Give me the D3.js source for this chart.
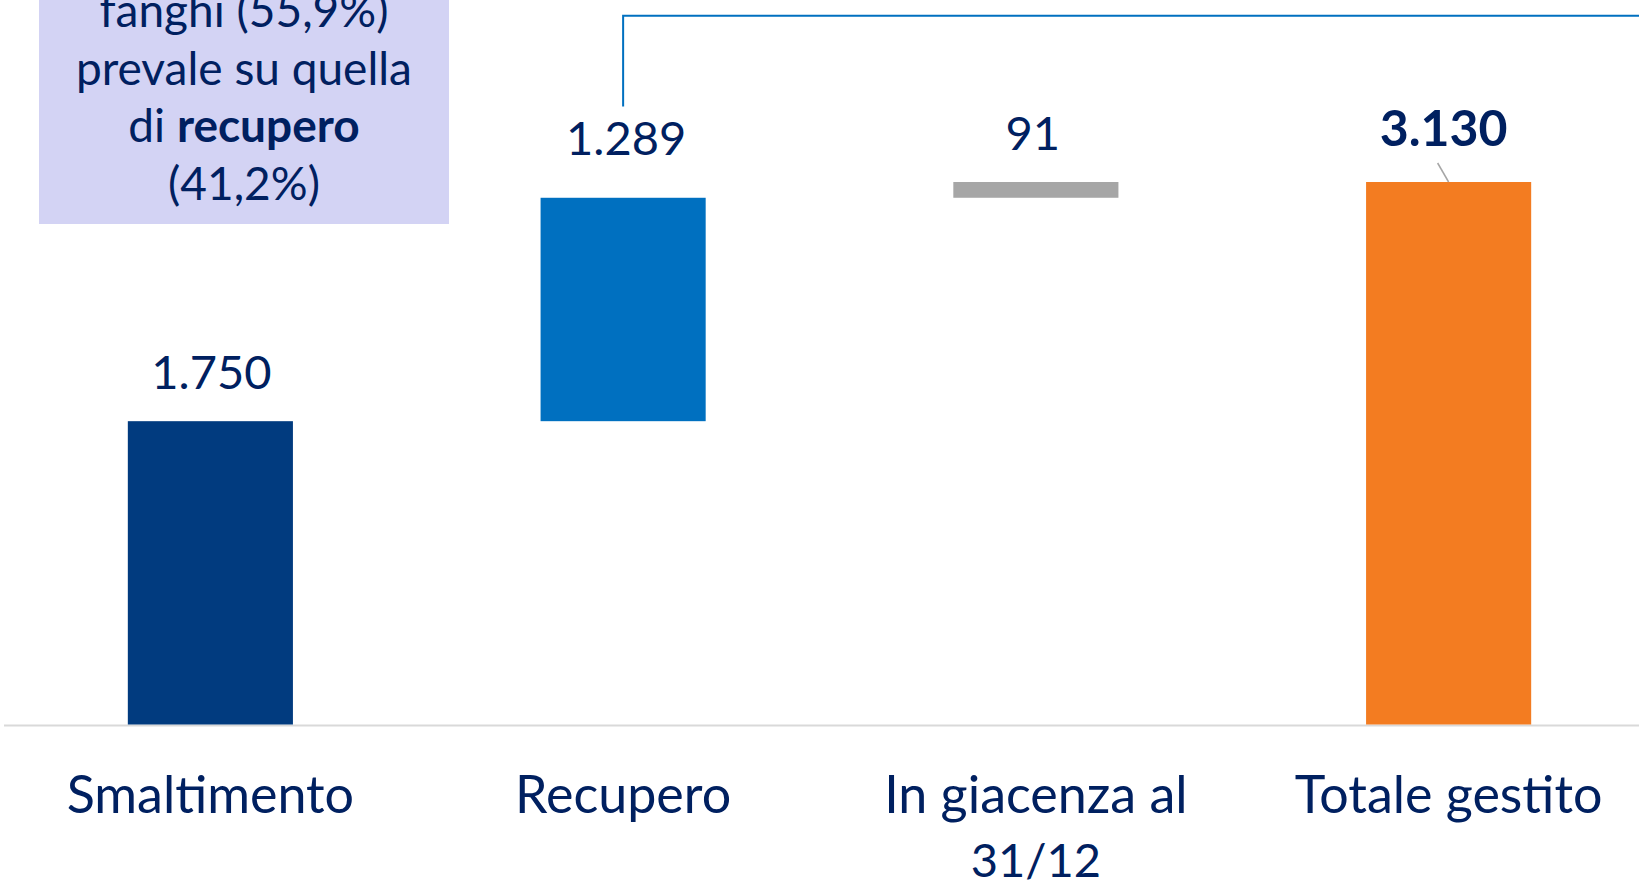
<!DOCTYPE html>
<html>
<head>
<meta charset="utf-8">
<script src="https://cdn.jsdelivr.net/npm/d3@7"></script>
<style>
  html, body { margin: 0; padding: 0; background: #ffffff; overflow: hidden; }
  svg { display: block; }
  text { font-family: Lato, "Noto Sans", sans-serif; fill: #002060; }
</style>
</head>
<body>
<svg id="chart" width="1639" height="888"></svg>
<script>
// ---- data ----
const categories = ["Smaltimento", "Recupero", "In giacenza al 31/12", "Totale gestito"];
const categoryLines = [["Smaltimento"], ["Recupero"], ["In giacenza al", "31/12"], ["Totale gestito"]];
const values = [1750, 1289, 91, 3130];
const valueLabels = ["1.750", "1.289", "91", "3.130"];
const isTotal = [false, false, false, true];
const noteLines = ["fanghi (55,9%)", "prevale su quella", "di |recupero", "(41,2%)"];

// ---- layout ----
const W = 1639, H = 888;
const colors = ["#013B7F", "#0070C0", "#A6A6A6", "#F37C21"];
const svg = d3.select("#chart");

const x = d3.scaleBand().domain(categories).range([4, 1655]).paddingInner(0.6).paddingOuter(0.3);
const y = d3.scaleLinear().domain([0, 3130]).range([724.5, 182]);

// waterfall segments
let run = 0;
const segs = values.map((v, i) => {
  let s;
  if (isTotal[i]) { s = { y0: 0, y1: v }; }
  else { s = { y0: run, y1: run + v }; run += v; }
  return Object.assign({ cat: categories[i], v, i }, s);
});

// note box
const box = svg.append("g");
box.append("rect").attr("x", 39).attr("y", -10).attr("width", 410).attr("height", 234).attr("fill", "#D3D3F4");
const noteY0 = 27, noteDy = 57.7;
noteLines.forEach((ln, k) => {
  const t = box.append("text").attr("x", 244).attr("y", noteY0 + k * noteDy)
    .attr("text-anchor", "middle").style("font-size", "46px");
  if (ln.includes("|")) {
    const [a, b] = ln.split("|");
    t.append("tspan").text(a);
    t.append("tspan").style("font-weight", "bold").text(b);
  } else t.text(ln);
});

// connector line
const cx1 = x(categories[1]) + x.bandwidth() / 2;
svg.append("path")
  .attr("d", `M${cx1},106.5 V15.7 H${W}`)
  .attr("fill", "none").attr("stroke", "#0070C0").attr("stroke-width", 2);

// axis baseline
svg.append("line").attr("x1", 4).attr("x2", W).attr("y1", y(0) + 1).attr("y2", y(0) + 1)
  .attr("stroke", "#D9D9D9").attr("stroke-width", 2);

// bars
svg.selectAll("rect.bar").data(segs).join("rect").attr("class", "bar")
  .attr("x", d => x(d.cat)).attr("width", x.bandwidth())
  .attr("y", d => y(d.y1)).attr("height", d => y(d.y0) - y(d.y1))
  .attr("fill", d => colors[d.i]);

// value labels
const labelGap = [32, 42.5, 32, 36.5];
const labelDx = [1, 3, -3, -5];
svg.selectAll("text.val").data(segs).join("text").attr("class", "val")
  .attr("x", d => x(d.cat) + x.bandwidth() / 2 + labelDx[d.i])
  .attr("y", d => y(d.y1) - labelGap[d.i])
  .attr("text-anchor", "middle")
  .style("font-size", d => isTotal[d.i] ? "50px" : "47px")
  .style("font-weight", d => isTotal[d.i] ? "bold" : "normal")
  .text(d => valueLabels[d.i]);

// leader for total label
const tc = x(categories[3]) + x.bandwidth() / 2;
svg.append("line").attr("x1", tc - 11).attr("y1", y(3130) - 19).attr("x2", tc).attr("y2", y(3130))
  .attr("stroke", "#A6A6A6").attr("stroke-width", 1.5);

// category labels
const axisG = svg.append("g");
categories.forEach((c, i) => {
  const cx = x(c) + x.bandwidth() / 2;
  const t = axisG.append("text").attr("x", cx).attr("y", 813)
    .attr("text-anchor", "middle").style("font-size", "52px");
  categoryLines[i].forEach((ln, k) => {
    const ts = t.append("tspan").attr("x", cx).attr("dy", k === 0 ? 0 : 64).text(ln);
    if (k > 0) ts.style("font-size", "47px");
  });
});
</script>
</body>
</html>
